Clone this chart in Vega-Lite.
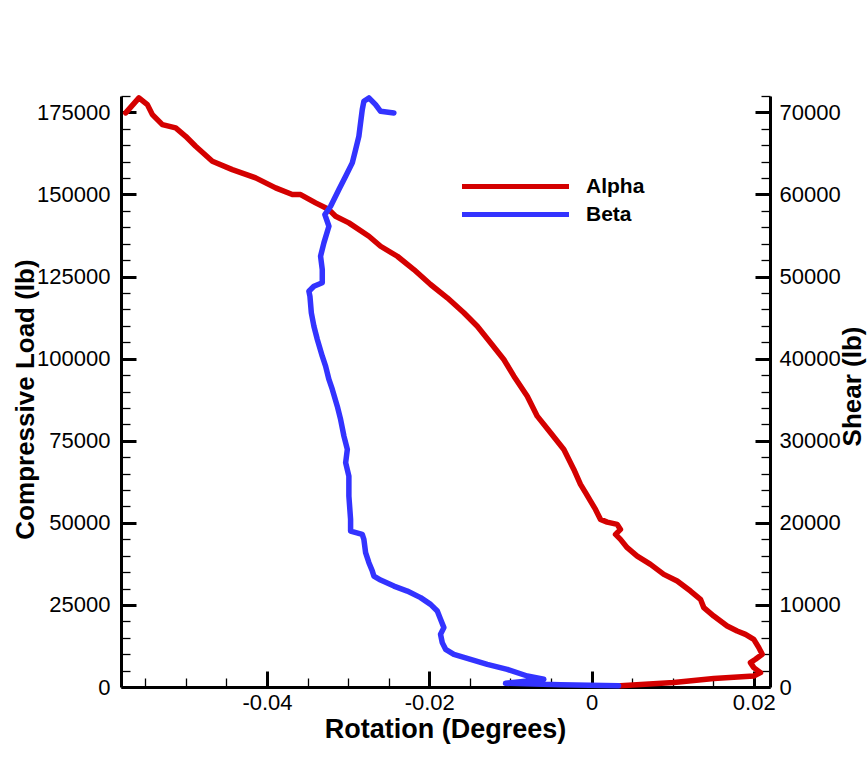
{
  "$schema": "https://vega.github.io/schema/vega-lite/v6.json",
  "width": 649,
  "height": 591,
  "autosize": {"type": "none"},
  "padding": {"left": 121, "top": 96, "right": 97, "bottom": 85},
  "background": "white",
  "config": {
    "view": {"stroke": null},
    "font": "Liberation Sans"
  },
  "resolve": {"scale": {"y": "independent"}, "axis": {"y": "independent"}},
  "layer": [
    {
      "data": {
        "values": [
          {"s": "Alpha", "i": 1, "rot": 0.00357, "load": 400},
          {"s": "Alpha", "i": 2, "rot": 0.01014, "load": 1339},
          {"s": "Alpha", "i": 3, "rot": 0.01507, "load": 2557},
          {"s": "Alpha", "i": 4, "rot": 0.02, "load": 3348},
          {"s": "Alpha", "i": 5, "rot": 0.02083, "load": 4383},
          {"s": "Alpha", "i": 6, "rot": 0.02, "load": 5905},
          {"s": "Alpha", "i": 7, "rot": 0.01959, "load": 7427},
          {"s": "Alpha", "i": 8, "rot": 0.02021, "load": 8432},
          {"s": "Alpha", "i": 9, "rot": 0.02104, "load": 9954},
          {"s": "Alpha", "i": 10, "rot": 0.02062, "load": 11993},
          {"s": "Alpha", "i": 11, "rot": 0.02, "load": 14520},
          {"s": "Alpha", "i": 12, "rot": 0.01898, "load": 16042},
          {"s": "Alpha", "i": 13, "rot": 0.01795, "load": 17046},
          {"s": "Alpha", "i": 14, "rot": 0.01672, "load": 18568},
          {"s": "Alpha", "i": 15, "rot": 0.01507, "load": 21612},
          {"s": "Alpha", "i": 16, "rot": 0.01384, "load": 24169},
          {"s": "Alpha", "i": 17, "rot": 0.01343, "load": 26696},
          {"s": "Alpha", "i": 18, "rot": 0.0122, "load": 29222},
          {"s": "Alpha", "i": 19, "rot": 0.01056, "load": 32266},
          {"s": "Alpha", "i": 20, "rot": 0.00891, "load": 34306},
          {"s": "Alpha", "i": 21, "rot": 0.00727, "load": 37350},
          {"s": "Alpha", "i": 22, "rot": 0.00563, "load": 39876},
          {"s": "Alpha", "i": 23, "rot": 0.0044, "load": 42433},
          {"s": "Alpha", "i": 24, "rot": 0.00357, "load": 44960},
          {"s": "Alpha", "i": 25, "rot": 0.00296, "load": 46482},
          {"s": "Alpha", "i": 26, "rot": 0.00357, "load": 48004},
          {"s": "Alpha", "i": 27, "rot": 0.00317, "load": 49526},
          {"s": "Alpha", "i": 28, "rot": 0.00193, "load": 50226},
          {"s": "Alpha", "i": 29, "rot": 0.00111, "load": 51048},
          {"s": "Alpha", "i": 30, "rot": 0.00049, "load": 54092},
          {"s": "Alpha", "i": 31, "rot": -0.00012, "load": 56618},
          {"s": "Alpha", "i": 32, "rot": -0.00074, "load": 59175},
          {"s": "Alpha", "i": 33, "rot": -0.00136, "load": 61701},
          {"s": "Alpha", "i": 34, "rot": -0.00218, "load": 66267},
          {"s": "Alpha", "i": 35, "rot": -0.00341, "load": 72356},
          {"s": "Alpha", "i": 36, "rot": -0.00505, "load": 77439},
          {"s": "Alpha", "i": 37, "rot": -0.00669, "load": 82492},
          {"s": "Alpha", "i": 38, "rot": -0.00792, "load": 88580},
          {"s": "Alpha", "i": 39, "rot": -0.00957, "load": 94668},
          {"s": "Alpha", "i": 40, "rot": -0.01081, "load": 99752},
          {"s": "Alpha", "i": 41, "rot": -0.01245, "load": 104835},
          {"s": "Alpha", "i": 42, "rot": -0.01408, "load": 109888},
          {"s": "Alpha", "i": 43, "rot": -0.01574, "load": 113967},
          {"s": "Alpha", "i": 44, "rot": -0.01778, "load": 118533},
          {"s": "Alpha", "i": 45, "rot": -0.01984, "load": 122582},
          {"s": "Alpha", "i": 46, "rot": -0.0219, "load": 127148},
          {"s": "Alpha", "i": 47, "rot": -0.02394, "load": 131196},
          {"s": "Alpha", "i": 48, "rot": -0.026, "load": 134240},
          {"s": "Alpha", "i": 49, "rot": -0.02744, "load": 137284},
          {"s": "Alpha", "i": 50, "rot": -0.02991, "load": 141363},
          {"s": "Alpha", "i": 51, "rot": -0.03155, "load": 143372},
          {"s": "Alpha", "i": 52, "rot": -0.03237, "load": 145412},
          {"s": "Alpha", "i": 53, "rot": -0.03401, "load": 147451},
          {"s": "Alpha", "i": 54, "rot": -0.03586, "load": 149978},
          {"s": "Alpha", "i": 55, "rot": -0.03688, "load": 149978},
          {"s": "Alpha", "i": 56, "rot": -0.03894, "load": 152017},
          {"s": "Alpha", "i": 57, "rot": -0.0414, "load": 155061},
          {"s": "Alpha", "i": 58, "rot": -0.04428, "load": 157588},
          {"s": "Alpha", "i": 59, "rot": -0.04674, "load": 160114},
          {"s": "Alpha", "i": 60, "rot": -0.0488, "load": 164680},
          {"s": "Alpha", "i": 61, "rot": -0.05003, "load": 167724},
          {"s": "Alpha", "i": 62, "rot": -0.05126, "load": 170281},
          {"s": "Alpha", "i": 63, "rot": -0.0529, "load": 171286},
          {"s": "Alpha", "i": 64, "rot": -0.05413, "load": 174330},
          {"s": "Alpha", "i": 65, "rot": -0.05475, "load": 177374},
          {"s": "Alpha", "i": 66, "rot": -0.05579, "load": 179413},
          {"s": "Alpha", "i": 67, "rot": -0.05742, "load": 174847},
          {"s": "Beta", "i": 1, "rot": 0.00333, "load": 365},
          {"s": "Beta", "i": 2, "rot": -0.00382, "load": 670},
          {"s": "Beta", "i": 3, "rot": -0.0106, "load": 1126},
          {"s": "Beta", "i": 4, "rot": -0.00875, "load": 1583},
          {"s": "Beta", "i": 5, "rot": -0.00588, "load": 2344},
          {"s": "Beta", "i": 6, "rot": -0.00792, "load": 3348},
          {"s": "Beta", "i": 7, "rot": -0.01039, "load": 5388},
          {"s": "Beta", "i": 8, "rot": -0.01285, "load": 6910},
          {"s": "Beta", "i": 9, "rot": -0.01491, "load": 8432},
          {"s": "Beta", "i": 10, "rot": -0.01697, "load": 9954},
          {"s": "Beta", "i": 11, "rot": -0.01799, "load": 11476},
          {"s": "Beta", "i": 12, "rot": -0.0184, "load": 13515},
          {"s": "Beta", "i": 13, "rot": -0.01861, "load": 16042},
          {"s": "Beta", "i": 14, "rot": -0.0182, "load": 18081},
          {"s": "Beta", "i": 15, "rot": -0.01861, "load": 20608},
          {"s": "Beta", "i": 16, "rot": -0.01901, "load": 23134},
          {"s": "Beta", "i": 17, "rot": -0.01984, "load": 25174},
          {"s": "Beta", "i": 18, "rot": -0.02107, "load": 27213},
          {"s": "Beta", "i": 19, "rot": -0.02271, "load": 29222},
          {"s": "Beta", "i": 20, "rot": -0.02436, "load": 30744},
          {"s": "Beta", "i": 21, "rot": -0.026, "load": 32571},
          {"s": "Beta", "i": 22, "rot": -0.02683, "load": 33788},
          {"s": "Beta", "i": 23, "rot": -0.02702, "load": 35310},
          {"s": "Beta", "i": 24, "rot": -0.02744, "load": 37867},
          {"s": "Beta", "i": 25, "rot": -0.02785, "load": 40911},
          {"s": "Beta", "i": 26, "rot": -0.02806, "load": 44960},
          {"s": "Beta", "i": 27, "rot": -0.02826, "load": 46482},
          {"s": "Beta", "i": 28, "rot": -0.0297, "load": 47486},
          {"s": "Beta", "i": 29, "rot": -0.0297, "load": 51048},
          {"s": "Beta", "i": 30, "rot": -0.02991, "load": 58140},
          {"s": "Beta", "i": 31, "rot": -0.02991, "load": 64228},
          {"s": "Beta", "i": 32, "rot": -0.03031, "load": 68307},
          {"s": "Beta", "i": 33, "rot": -0.0301, "load": 72356},
          {"s": "Beta", "i": 34, "rot": -0.03052, "load": 76404},
          {"s": "Beta", "i": 35, "rot": -0.03093, "load": 81488},
          {"s": "Beta", "i": 36, "rot": -0.03134, "load": 85536},
          {"s": "Beta", "i": 37, "rot": -0.03195, "load": 90620},
          {"s": "Beta", "i": 38, "rot": -0.03237, "load": 93664},
          {"s": "Beta", "i": 39, "rot": -0.03278, "load": 97712},
          {"s": "Beta", "i": 40, "rot": -0.03319, "load": 100756},
          {"s": "Beta", "i": 41, "rot": -0.0338, "load": 105840},
          {"s": "Beta", "i": 42, "rot": -0.03422, "load": 109888},
          {"s": "Beta", "i": 43, "rot": -0.03454, "load": 113967},
          {"s": "Beta", "i": 44, "rot": -0.03471, "load": 119020},
          {"s": "Beta", "i": 45, "rot": -0.03484, "load": 120542},
          {"s": "Beta", "i": 46, "rot": -0.03422, "load": 122064},
          {"s": "Beta", "i": 47, "rot": -0.03319, "load": 123099},
          {"s": "Beta", "i": 48, "rot": -0.03319, "load": 127148},
          {"s": "Beta", "i": 49, "rot": -0.0334, "load": 131196},
          {"s": "Beta", "i": 50, "rot": -0.03299, "load": 135275},
          {"s": "Beta", "i": 51, "rot": -0.03237, "load": 140328},
          {"s": "Beta", "i": 52, "rot": -0.03287, "load": 143890},
          {"s": "Beta", "i": 53, "rot": -0.03216, "load": 146416},
          {"s": "Beta", "i": 54, "rot": -0.03114, "load": 151500},
          {"s": "Beta", "i": 55, "rot": -0.03031, "load": 155548},
          {"s": "Beta", "i": 56, "rot": -0.02949, "load": 159627},
          {"s": "Beta", "i": 57, "rot": -0.02908, "load": 163675},
          {"s": "Beta", "i": 58, "rot": -0.02868, "load": 167724},
          {"s": "Beta", "i": 59, "rot": -0.02847, "load": 171803},
          {"s": "Beta", "i": 60, "rot": -0.02826, "load": 175852},
          {"s": "Beta", "i": 61, "rot": -0.02806, "load": 178378},
          {"s": "Beta", "i": 62, "rot": -0.02744, "load": 179413},
          {"s": "Beta", "i": 63, "rot": -0.02662, "load": 177374},
          {"s": "Beta", "i": 64, "rot": -0.026, "load": 175334},
          {"s": "Beta", "i": 65, "rot": -0.02436, "load": 174847}
        ]
      },
      "mark": {"type": "line", "strokeWidth": 5.5, "strokeCap": "round", "strokeJoin": "round"},
      "encoding": {
        "x": {
          "field": "rot", "type": "quantitative",
          "scale": {"domain": [-0.058, 0.022], "nice": false, "zero": false},
          "axis": {
            "orient": "bottom",
            "values": [-0.055, -0.05, -0.045, -0.04, -0.035, -0.03, -0.025, -0.02, -0.015, -0.01, -0.005, 0, 0.005, 0.01, 0.015, 0.02],
            "labelExpr": "abs(datum.value*50 - round(datum.value*50)) < 0.000001 ? datum.value + '' : ''",
            "tickSize": {"condition": {"test": "abs(datum.value*50 - round(datum.value*50)) < 0.000001", "value": -16}, "value": -9},
            "tickWidth": {"condition": {"test": "abs(datum.value*50 - round(datum.value*50)) < 0.000001", "value": 3}, "value": 1.3},
            "tickColor": "black",
            "labelPadding": 21,
            "labelFont": "Liberation Sans", "labelFontSize": 22, "labelColor": "black",
            "labelFlush": false, "labelOverlap": false,
            "domainColor": "black", "domainWidth": 3,
            "grid": false,
            "title": "Rotation (Degrees)",
            "titleFont": "Liberation Sans", "titleFontSize": 27, "titleFontWeight": "bold", "titleColor": "black",
            "titleX": 324, "titleY": 42, "titleBaseline": "middle", "titleAlign": "center"
          }
        },
        "y": {
          "field": "load", "type": "quantitative",
          "scale": {"domain": [0, 180000], "nice": false},
          "axis": {
            "orient": "left",
            "values": [0, 5000, 10000, 15000, 20000, 25000, 30000, 35000, 40000, 45000, 50000, 55000, 60000, 65000, 70000, 75000, 80000, 85000, 90000, 95000, 100000, 105000, 110000, 115000, 120000, 125000, 130000, 135000, 140000, 145000, 150000, 155000, 160000, 165000, 170000, 175000, 180000],
            "labelExpr": "datum.value % 25000 === 0 ? datum.value + '' : ''",
            "tickSize": {"condition": {"test": "datum.value % 25000 === 0", "value": -15}, "value": -9},
            "tickWidth": {"condition": {"test": "datum.value % 25000 === 0", "value": 3}, "value": 1.3},
            "tickColor": "black",
            "labelPadding": 26,
            "labelFont": "Liberation Sans", "labelFontSize": 22, "labelColor": "black",
            "labelFlush": false, "labelOverlap": false,
            "domainColor": "black", "domainWidth": 3,
            "grid": false,
            "title": "Compressive Load (lb)",
            "titleFont": "Liberation Sans", "titleFontSize": 26, "titleFontWeight": "bold", "titleColor": "black",
            "titleAngle": 270, "titleX": -96, "titleY": 303, "titleBaseline": "middle", "titleAlign": "center"
          }
        },
        "color": {
          "field": "s", "type": "nominal",
          "scale": {"domain": ["Alpha", "Beta"], "range": ["#D40000", "#3333FF"]},
          "legend": {
            "title": null,
            "orient": "none",
            "legendX": 384,
            "legendY": 80,
            "padding": 0,
            "symbolType": "M-10,0H10",
            "symbolSize": 114.5,
            "symbolStrokeWidth": 5,
            "labelOffset": 60,
            "rowPadding": 6,
            "labelFont": "Liberation Sans", "labelFontSize": 21, "labelFontWeight": "bold", "labelColor": "black"
          }
        },
        "order": {"field": "i", "type": "quantitative"}
      }
    },
    {
      "data": {"values": [{"shear": 0}, {"shear": 72000}]},
      "mark": {"type": "point", "opacity": 0},
      "encoding": {
        "y": {
          "field": "shear", "type": "quantitative",
          "scale": {"domain": [0, 72000], "nice": false},
          "axis": {
            "orient": "right",
            "values": [0, 2000, 4000, 6000, 8000, 10000, 12000, 14000, 16000, 18000, 20000, 22000, 24000, 26000, 28000, 30000, 32000, 34000, 36000, 38000, 40000, 42000, 44000, 46000, 48000, 50000, 52000, 54000, 56000, 58000, 60000, 62000, 64000, 66000, 68000, 70000, 72000],
            "labelExpr": "datum.value % 10000 === 0 ? datum.value + '' : ''",
            "tickSize": {"condition": {"test": "datum.value % 10000 === 0", "value": -15}, "value": -9},
            "tickWidth": {"condition": {"test": "datum.value % 10000 === 0", "value": 3}, "value": 1.3},
            "tickColor": "black",
            "labelPadding": 24,
            "labelFont": "Liberation Sans", "labelFontSize": 22, "labelColor": "black",
            "labelFlush": false, "labelOverlap": false,
            "domainColor": "black", "domainWidth": 3,
            "grid": false,
            "title": "Shear (lb)",
            "titleFont": "Liberation Sans", "titleFontSize": 26, "titleFontWeight": "bold", "titleColor": "black",
            "titleAngle": 270, "titleX": 82, "titleY": 290, "titleBaseline": "middle", "titleAlign": "center"
          }
        }
      }
    }
  ]
}
